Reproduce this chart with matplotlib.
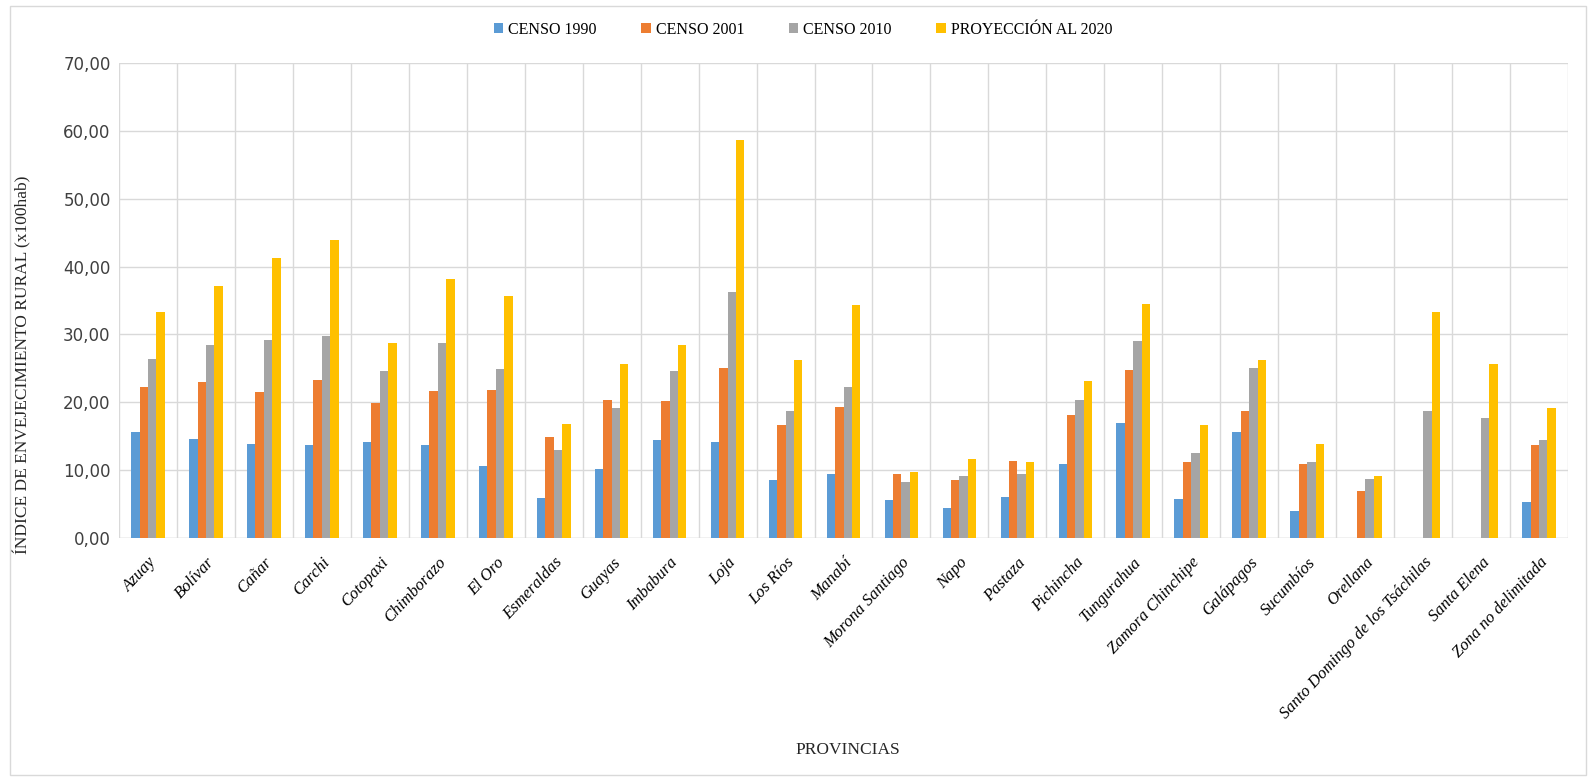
import numpy as np
import matplotlib.pyplot as plt
from matplotlib.patches import Rectangle
from matplotlib.ticker import FuncFormatter

provincias = ["Azuay", "Bolívar", "Cañar", "Carchi", "Cotopaxi", "Chimborazo", "El Oro",
              "Esmeraldas", "Guayas", "Imbabura", "Loja", "Los Ríos", "Manabí",
              "Morona Santiago", "Napo", "Pastaza", "Pichincha", "Tungurahua",
              "Zamora Chinchipe", "Galápagos", "Sucumbíos", "Orellana",
              "Santo Domingo de los Tsáchilas", "Santa Elena", "Zona no delimitada"]

censo_1990 = [15.6, 14.6, 13.9, 13.7, 14.2, 13.7, 10.6, 5.9, 10.1, 14.4, 14.2, 8.6, 9.5,
              5.6, 4.4, 6.1, 10.9, 16.9, 5.7, 15.6, 4.0, np.nan, np.nan, np.nan, 5.3]
censo_2001 = [22.3, 23.0, 21.5, 23.3, 19.9, 21.7, 21.8, 14.9, 20.4, 20.2, 25.0, 16.6, 19.3,
              9.5, 8.6, 11.4, 18.1, 24.7, 11.2, 18.7, 10.9, 7.0, np.nan, np.nan, 13.7]
censo_2010 = [26.4, 28.5, 29.2, 29.7, 24.6, 28.7, 24.9, 13.0, 19.2, 24.6, 36.2, 18.7, 22.2,
              8.3, 9.2, 9.5, 20.4, 29.0, 12.6, 25.0, 11.2, 8.7, 18.7, 17.7, 14.4]
proy_2020 = [33.3, 37.1, 41.3, 43.9, 28.7, 38.2, 35.6, 16.8, 25.6, 28.5, 58.7, 26.2, 34.4,
             9.7, 11.6, 11.2, 23.2, 34.5, 16.7, 26.3, 13.9, 9.2, 33.3, 25.7, 19.1]

series = [("CENSO 1990", censo_1990, "#5B9BD5"),
          ("CENSO 2001", censo_2001, "#ED7D31"),
          ("CENSO 2010", censo_2010, "#A5A5A5"),
          ("PROYECCIÓN AL 2020", proy_2020, "#FFC000")]

serif = "Liberation Serif"

fig = plt.figure(figsize=(15.88, 7.77), dpi=100)
ax = fig.add_axes([119 / 1588, 1 - 538 / 777, 1449 / 1588, 475 / 777])

x = np.arange(len(provincias))
w = 0.145
for i, (name, vals, col) in enumerate(series):
    ax.bar(x + (i - 1.5) * w, vals, width=w, color=col, label=name, zorder=3)

ax.set_xlim(-0.5, len(provincias) - 0.5)
ax.set_ylim(0, 70)
ax.set_yticks(np.arange(0, 71, 10))
ax.yaxis.set_major_formatter(FuncFormatter(lambda v, p: f"{v:.2f}".replace(".", ",")))
ax.set_xticks(x)
ax.set_xticklabels(provincias, rotation=47, ha="right", rotation_mode="anchor",
                   fontfamily=serif, fontstyle="italic", fontsize=12)
ax.set_xticks(np.arange(-0.5, len(provincias), 1), minor=True)
ax.tick_params(axis="x", which="both", length=0, pad=12)
ax.tick_params(axis="y", length=0, labelsize=12, colors="#404040", pad=6)
ax.grid(axis="y", color="#D9D9D9", linewidth=1, zorder=0)
ax.grid(axis="x", which="minor", color="#D9D9D9", linewidth=1, zorder=0)
for s in ax.spines.values():
    s.set_visible(False)
ax.axhline(0, color="#D9D9D9", linewidth=1, zorder=2)

fig.text(22 / 1588, 1 - 365 / 777, "ÍNDICE DE ENVEJECIMIENTO RURAL (x100hab)",
         rotation=90, ha="center", va="center", fontfamily=serif, fontsize=12.5,
         color="#262626")
fig.text(848 / 1588, 1 - 750 / 777, "PROVINCIAS", ha="center", va="center",
         fontfamily=serif, fontsize=12.5, color="#262626")

fig.legend(loc="center", bbox_to_anchor=(803 / 1588, 1 - 30 / 777), ncol=4, frameon=False,
           prop={"family": serif, "size": 11.5}, handlelength=0.6, handleheight=0.6,
           handletextpad=0.3, columnspacing=2.8)

fig.patches.append(Rectangle((10 / 1588, 2 / 777), 1 - 12 / 1588, 1 - 8 / 777,
                             transform=fig.transFigure, fill=False,
                             edgecolor="#D9D9D9", linewidth=1))

fig.savefig("out.png", dpi=100)
